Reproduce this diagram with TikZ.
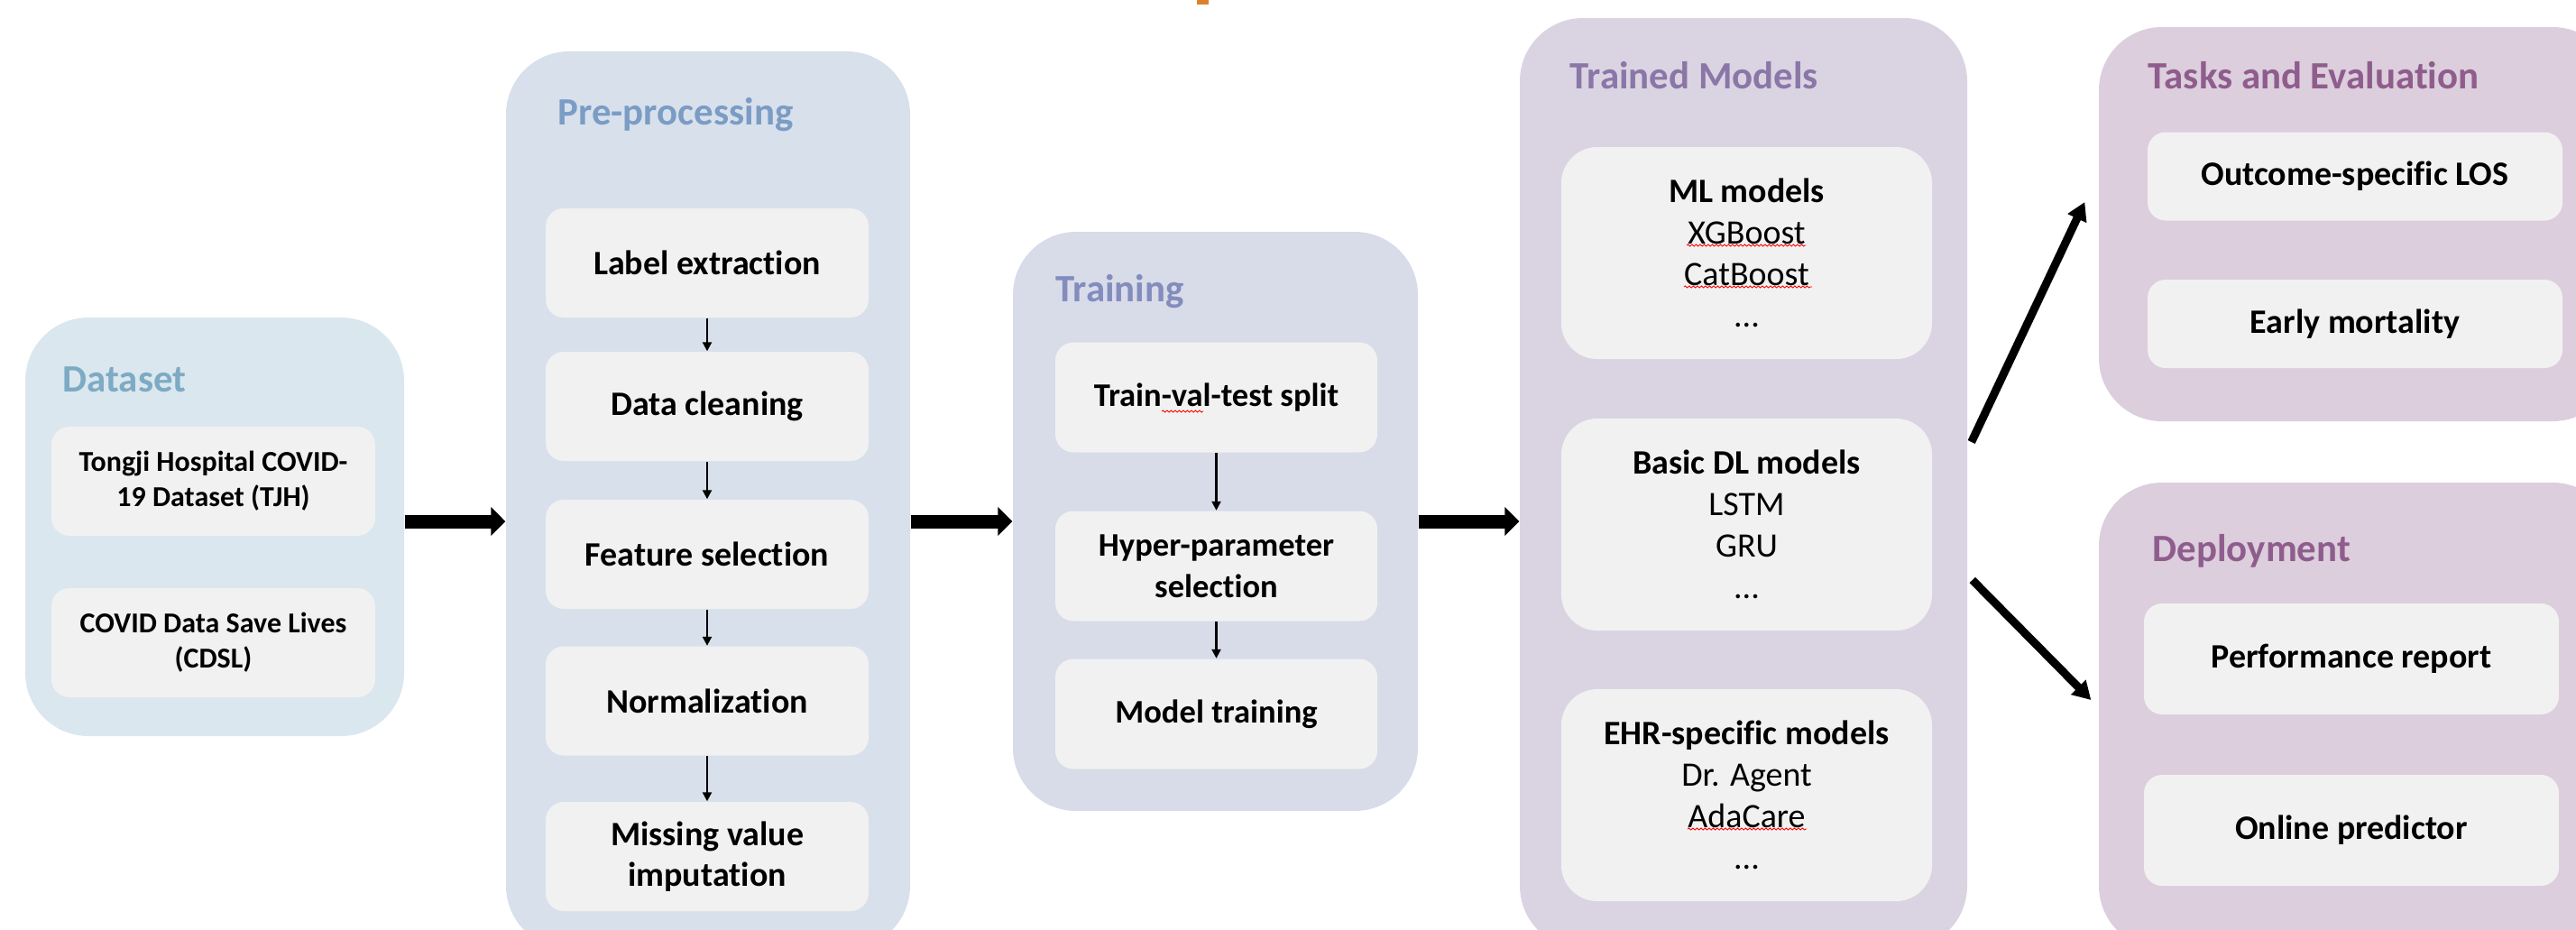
\documentclass[tikz,border=0pt]{standalone}
\usepackage{fontspec}
\setmainfont{Carlito}[Ligatures=NoCommon]
\usetikzlibrary{arrows.meta,decorations.pathmorphing}

\definecolor{dsfill}{RGB}{218,231,238}
\definecolor{dstext}{RGB}{125,170,196}
\definecolor{ppfill}{RGB}{216,224,235}
\definecolor{pptext}{RGB}{122,156,197}
\definecolor{trfill}{RGB}{216,219,232}
\definecolor{trtext}{RGB}{130,141,190}
\definecolor{tmfill}{RGB}{218,212,226}
\definecolor{tmtext}{RGB}{139,118,168}
\definecolor{tefill}{RGB}{220,206,220}
\definecolor{tetext}{RGB}{143,93,141}
\definecolor{boxfill}{RGB}{241,241,241}
\definecolor{blip}{RGB}{217,130,43}

\begin{document}
\begin{tikzpicture}[
  stage/.style={rounded corners=0.7cm, inner sep=0pt},
  item/.style={fill=boxfill, rounded corners=0.2cm, inner sep=0pt, align=center,
    font=\fontsize{10.8}{13}\selectfont\bfseries},
  prepitem/.style={item, minimum width=3.58cm, minimum height=1.21cm},
  trainitem/.style={item, minimum width=3.57cm, minimum height=1.22cm,
    font=\fontsize{10.4}{13}\selectfont\bfseries},
  modelitem/.style={item, rounded corners=0.4cm, minimum width=4.11cm, minimum height=2.35cm,
    font=\fontsize{10.8}{13.1}\selectfont},
  title/.style={anchor=base west, inner sep=0pt, font=\fontsize{12.2}{14}\selectfont\bfseries},
  flow/.style={line width=0.15cm, -{Triangle[width=0.31cm,length=0.16cm]}},
  link/.style={line width=0.022cm, -{Triangle[width=0.1cm,length=0.1cm]}},
  branch/.style={line width=0.09cm, -{Triangle[width=0.22cm,length=0.2cm]}},
  spell/.style={red, line width=0.25pt, decorate,
    decoration={snake, segment length=0.045cm, amplitude=0.01cm}}
]
\useasboundingbox (0,0) rectangle (28.56,-10.30);
\clip (0,0) rectangle (28.56,-10.30);

\fill[blip] (13.27,0.05) rectangle (13.40,-0.05);

\node[stage, fill=dsfill, minimum width=4.20cm, minimum height=4.64cm] (dataset) at (2.38,-5.84) {};
\node[title, text=dstext] (datasettitle) at (0.69,-4.34) {Dataset};
\node[item, minimum width=3.59cm, minimum height=1.21cm, font=\fontsize{9.1}{11.1}\selectfont\bfseries] (tjh) at (2.365,-5.335) {Tongji Hospital COVID-\\19 Dataset (TJH)};
\node[item, minimum width=3.59cm, minimum height=1.21cm, font=\fontsize{9.1}{11.1}\selectfont\bfseries] (cdsl) at (2.365,-7.125) {COVID Data Save Lives\\(CDSL)};

\node[stage, fill=ppfill, minimum width=4.48cm, minimum height=9.95cm] (prep) at (7.85,-5.545) {};
\node[title, text=pptext] (preptitle) at (6.18,-1.38) {Pre-processing};
\node[prepitem] (extract) at (7.84,-2.915) {Label extraction};
\node[prepitem] (clean) at (7.84,-4.505) {Data cleaning};
\node[prepitem] (feat) at (7.84,-6.145) {Feature selection};
\node[prepitem] (norm) at (7.84,-7.77) {Normalization};
\node[prepitem] (impute) at (7.84,-9.495) {Missing value\\imputation};

\node[stage, fill=trfill, minimum width=4.49cm, minimum height=6.42cm] (train) at (13.475,-5.78) {};
\node[title, text=trtext] (traintitle) at (11.70,-3.34) {Training};
\node[trainitem] (split) at (13.485,-4.405) {Train-val-test split};
\node[trainitem] (hyper) at (13.485,-6.275) {Hyper-parameter\\selection};
\node[trainitem] (fit) at (13.485,-7.915) {Model training};

\node[stage, fill=tmfill, minimum width=4.96cm, minimum height=10.32cm] (models) at (19.33,-5.36) {};
\node[title, text=tmtext] (modelstitle) at (17.40,-0.98) {Trained Models};
\node[modelitem] (ml) at (19.365,-2.805) {\textbf{ML models}\\XGBoost\\CatBoost\\...};
\node[modelitem] (dl) at (19.365,-5.815) {\textbf{Basic DL models}\\LSTM\\GRU\\...};
\node[modelitem] (ehr) at (19.365,-8.815) {\textbf{EHR-specific models}\\Dr. Agent\\AdaCare\\...};

\node[stage, fill=tefill, minimum width=5.73cm, minimum height=4.37cm] (tasks) at (26.135,-2.485) {};
\node[title, text=tetext] (taskstitle) at (23.81,-0.98) {Tasks and Evaluation};
\node[item, minimum width=4.60cm, minimum height=0.98cm] (los) at (26.11,-1.955) {Outcome-specific LOS};
\node[item, minimum width=4.60cm, minimum height=0.98cm] (mort) at (26.11,-3.59) {Early mortality};

\node[stage, fill=tefill, minimum width=5.73cm, minimum height=5.17cm] (deploy) at (26.135,-7.935) {};
\node[title, text=tetext] (deploytitle) at (23.86,-6.22) {Deployment};
\node[item, minimum width=4.60cm, minimum height=1.23cm] (report) at (26.07,-7.305) {Performance report};
\node[item, minimum width=4.60cm, minimum height=1.23cm] (online) at (26.07,-9.205) {Online predictor};

\draw[spell] ([shift={(-0.605,-0.155)}]split.center) -- ++(0.46,0);
\draw[spell] ([shift={(-0.665,0.085)}]ml.center) -- ++(1.32,0);
\draw[spell] ([shift={(-0.695,-0.375)}]ml.center) -- ++(1.42,0);
\draw[spell] ([shift={(-0.655,-0.375)}]ehr.center) -- ++(1.32,0);

\draw[flow] ([yshift=0.06cm]dataset.east) -- ([yshift=0.06cm]dataset.east -| prep.west);
\draw[flow] (prep.east |- train.west) -- (train.west);
\draw[flow] (train.east) -- (train.east -| models.west);

\foreach \a/\b in {extract/clean, clean/feat, feat/norm, norm/impute, split/hyper, hyper/fit}
  \draw[link] (\a) -- (\b);

\draw[branch] ([shift={(0.04,0.46)}]models.east) -- ([shift={(-0.15,0.245)}]tasks.west);
\draw[branch] ([shift={(0.05,-1.07)}]models.east) -- ([shift={(-0.08,0.175)}]deploy.west);
\end{tikzpicture}
\end{document}
